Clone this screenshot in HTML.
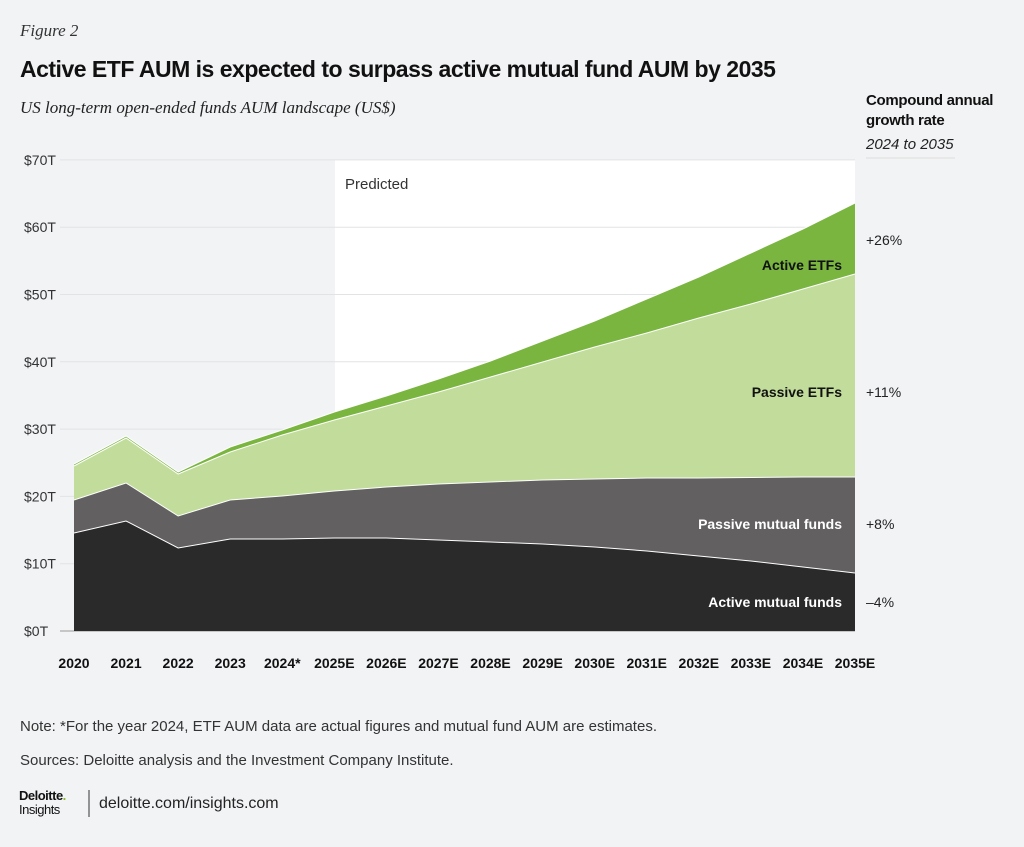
<!DOCTYPE html>
<html><head><meta charset="utf-8">
<style>
body{margin:0;width:1024px;height:847px;background:#f2f3f5;font-family:"Liberation Sans",sans-serif;overflow:hidden}
svg{position:absolute;left:0;top:0}
</style></head><body>
<svg id="s" width="1024" height="847" xmlns="http://www.w3.org/2000/svg">
<text x="20" y="36" font-family="Liberation Serif" font-style="italic" font-size="17" fill="#333">Figure 2</text>
<text x="20" y="77" font-size="23" font-weight="bold" fill="#111" letter-spacing="-0.5">Active ETF AUM is expected to surpass active mutual fund AUM by 2035</text>
<text x="20" y="113" font-family="Liberation Serif" font-style="italic" font-size="17" fill="#222">US long-term open-ended funds AUM landscape (US$)</text>
<text x="866" y="105" font-size="15" font-weight="bold" fill="#111" letter-spacing="-0.3">Compound annual</text>
<text x="866" y="125" font-size="15" font-weight="bold" fill="#111" letter-spacing="-0.3">growth rate</text>
<text x="866" y="149" font-size="15" font-style="italic" fill="#222">2024 to 2035</text>
<line x1="866" y1="158" x2="955" y2="158" stroke="#ddd"/>
<rect x="335" y="160" width="520" height="471" fill="#fff"/>
<g id="grid"></g>
<g id="areas"></g>
<text x="345" y="189" font-size="15" fill="#333">Predicted</text>
<g font-size="14" font-weight="bold" fill="#111" text-anchor="end">
<text x="842" y="270">Active ETFs</text>
<text x="842" y="397">Passive ETFs</text>
<text x="842" y="529" fill="#fff">Passive mutual funds</text>
<text x="842" y="607" fill="#fff">Active mutual funds</text>
</g>
<g font-size="14" fill="#222">
<text x="866" y="245">+26%</text>
<text x="866" y="397">+11%</text>
<text x="866" y="529">+8%</text>
<text x="866" y="607">–4%</text>
</g>
<g id="xl" font-size="14" font-weight="bold" fill="#111" text-anchor="middle"></g>
<text x="20" y="731" font-size="15" fill="#333">Note: *For the year 2024, ETF AUM data are actual figures and mutual fund AUM are estimates.</text>
<text x="20" y="765" font-size="15" fill="#333">Sources: Deloitte analysis and the Investment Company Institute.</text>
<text x="19" y="800" font-size="13" font-weight="bold" fill="#111" letter-spacing="-0.5">Deloitte<tspan fill="#86bc25">.</tspan></text>
<text x="19" y="814" font-size="13" fill="#111" letter-spacing="-0.5">Insights</text>
<line x1="89" y1="790" x2="89" y2="817" stroke="#333"/>
<text x="99" y="808" font-size="16" fill="#222">deloitte.com/insights.com</text>
</svg>
<script>
var ns="http://www.w3.org/2000/svg";
function el(p,t,a,txt){var e=document.createElementNS(ns,t);for(var k in a)e.setAttribute(k,a[k]);if(txt)e.textContent=txt;document.getElementById(p).appendChild(e);return e;}
var x0=74,st=781/15,xs=[];for(var i=0;i<16;i++)xs.push(x0+st*i);
var lbl=["2020","2021","2022","2023","2024*","2025E","2026E","2027E","2028E","2029E","2030E","2031E","2032E","2033E","2034E","2035E"];
for(var i=0;i<16;i++)el('xl','text',{x:xs[i],y:668},lbl[i]);
for(var v=0;v<=7;v++){var y=631-v*67.3;
 el('grid','line',{x1:60,x2:855,y1:y,y2:y,stroke:v==0?'#999':'#e2e3e6','stroke-width':1});
 el('grid','text',{x:24,y:y+5,'font-size':14,fill:'#333'},'$'+(v*10)+'T');}
var base=xs.map(function(){return 631});
var amf=[533,521,548,539,539,538,538,540,542,544,547,551,556,561,567,573];
var pmf=[500,483,516,500,496,491,487,484,482,480,479,478,478,477.5,477,477];
var petf=[466,438,474,452,435,420,406,392,377,362,347,333,318,304,289,274];
var aetf=[464,436,472,447,430,412,396,379,361,341,321,299,277,253,229,203];
function area(top,bot,fill){var d='M';for(var i=0;i<16;i++)d+=xs[i]+','+top[i]+' ';for(var i=15;i>=0;i--)d+='L'+xs[i]+','+bot[i]+' ';
 el('areas','path',{d:d+'Z',fill:fill});
 var l='M';for(var i=0;i<16;i++)l+=(i?'L':'')+xs[i]+','+top[i]+' ';el('areas','path',{d:l,fill:'none',stroke:'#fff','stroke-width':1});}
area(aetf,petf,'#79b53f');area(petf,pmf,'#c1dc9b');area(pmf,amf,'#626061');area(amf,base,'#2a2a2a');
</script>
</body></html>
